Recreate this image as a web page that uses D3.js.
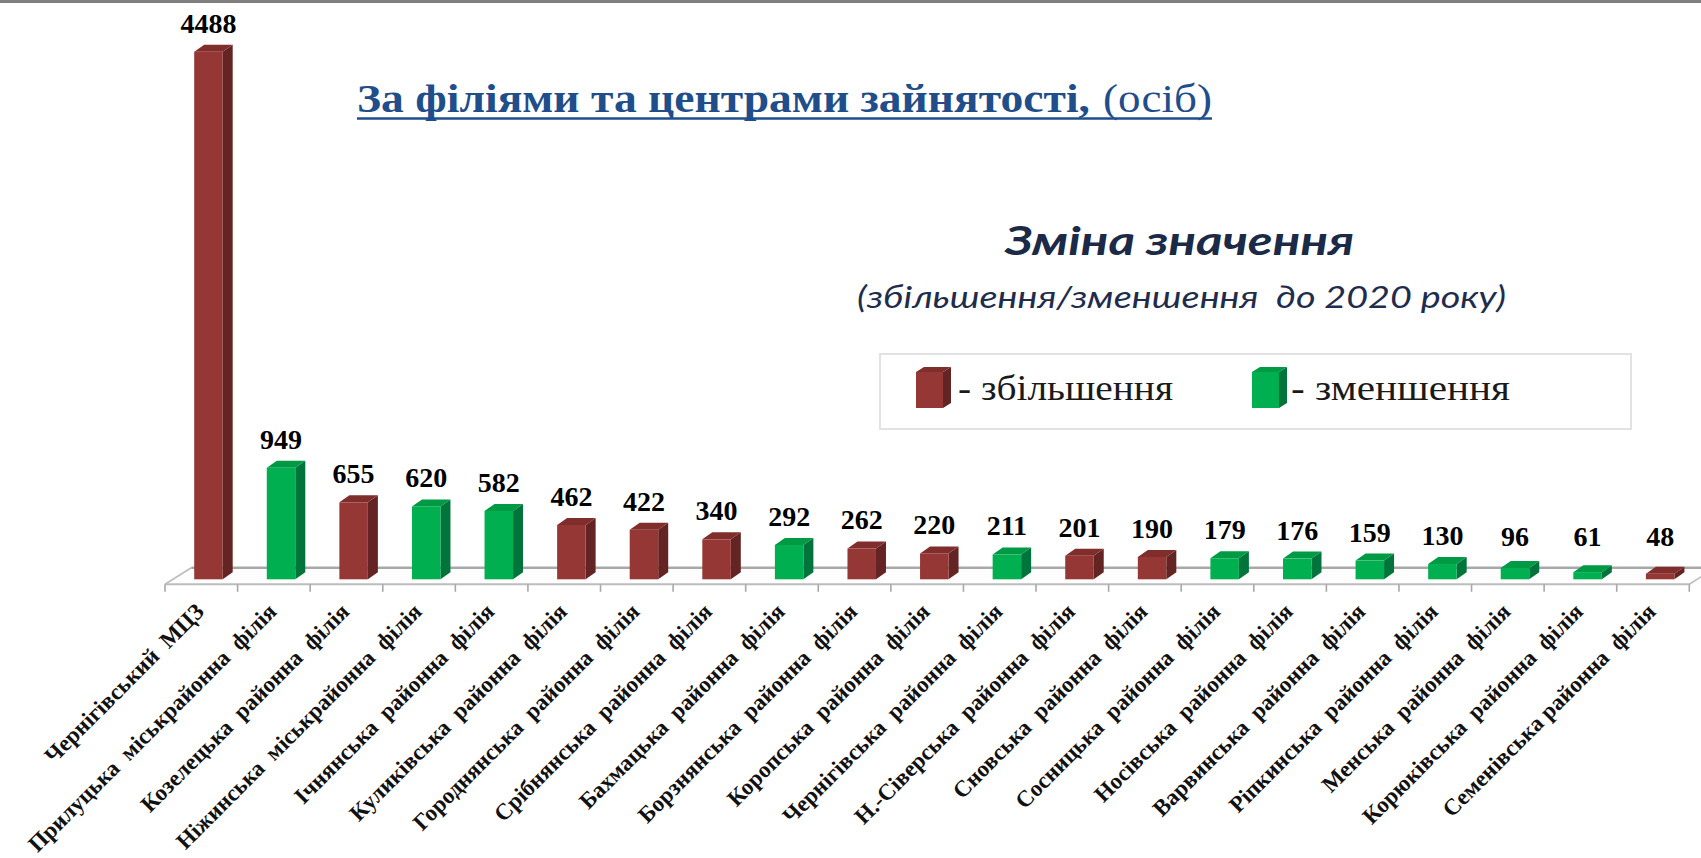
<!DOCTYPE html>
<html><head><meta charset="utf-8">
<script src="https://cdn.jsdelivr.net/npm/d3@7"></script>
<style>html,body{margin:0;padding:0;background:#fff;overflow:hidden}</style>
</head><body><svg id="c" width="1701" height="858"></svg>
<script>
const categories = [
  "Чернігівський  МЦЗ",
  "Прилуцька  міськрайонна  філія",
  "Козелецька  районна  філія",
  "Ніжинська  міськрайонна  філія",
  "Ічнянська  районна  філія",
  "Куликівська  районна  філія",
  "Городнянська  районна  філія",
  "Срібнянська  районна  філія",
  "Бахмацька  районна  філія",
  "Борзнянська  районна  філія",
  "Коропська  районна  філія",
  "Чернігівська  районна  філія",
  "Н.-Сіверська  районна  філія",
  "Сновська  районна  філія",
  "Сосницька  районна  філія",
  "Носівська  районна  філія",
  "Варвинська  районна  філія",
  "Ріпкинська  районна  філія",
  "Менська  районна  філія",
  "Корюківська  районна  філія",
  "Семенівська районна  філія"
];
const values = [4488, 949, 655, 620, 582, 462, 422, 340, 292, 262, 220, 211, 201, 190, 179, 176, 159, 130, 96, 61, 48];
const changeType = ["up","down","up","down","down","up","up","up","down","up","up","down","up","up","down","down","down","down","down","down","up"];
const legendTypes = ["up","down"];
const legendLabels = ["- збільшення", "- зменшення"];
const titleBold = "За філіями та центрами зайнятості,";
const titleUnit = "(осіб)";
const subTitle = "Зміна значення";
const subNote = "(збільшення/зменшення  до 2020 року)";

const W = 1701, H = 858;
const svg = d3.select("#c");
svg.append("rect").attr("width", W).attr("height", H).attr("fill", "#fff");
svg.append("rect").attr("x", 0).attr("y", 0).attr("width", W).attr("height", 3).attr("fill", "#7f7f7f");

const colors = {
  up:   {front: "#953735", side: "#632423", top: "#802e2c"},
  down: {front: "#00B050", side: "#00743A", top: "#009944"}
};

const x = d3.scaleBand().domain(categories).range([165, 1689.3]).paddingInner(0).paddingOuter(0);
const y = d3.scaleLinear().domain([0, 4488]).range([579.3, 51.7]);
const floorFront = 584.3, floorDx = 26.3, floorDy = -16.6;
const barOff = 29.2, barW = 28.5, bdx = 10, bdy = -7;

// floor
const xL = x.range()[0], xR = x.range()[1];
svg.append("polygon")
  .attr("points", [[xL, floorFront], [xR, floorFront], [xR + floorDx, floorFront + floorDy], [xL + floorDx, floorFront + floorDy]].join(" "))
  .attr("fill", "#fdfdfd").attr("stroke", "none");
svg.append("line").attr("x1", xL + floorDx).attr("x2", xR + floorDx).attr("y1", floorFront + floorDy).attr("y2", floorFront + floorDy)
  .attr("stroke", "#a8a8a8").attr("stroke-width", 2.5);
svg.append("line").attr("x1", xL).attr("x2", xR).attr("y1", floorFront).attr("y2", floorFront)
  .attr("stroke", "#bdbdbd").attr("stroke-width", 2);
svg.append("line").attr("x1", xL).attr("x2", xL + floorDx).attr("y1", floorFront).attr("y2", floorFront + floorDy)
  .attr("stroke", "#bdbdbd").attr("stroke-width", 1.6);
svg.append("line").attr("x1", xR).attr("x2", xR + floorDx).attr("y1", floorFront).attr("y2", floorFront + floorDy)
  .attr("stroke", "#bdbdbd").attr("stroke-width", 1.6);

// ticks
const tickXs = categories.map(c => x(c)).concat([xR]);
svg.append("g").selectAll("line").data(tickXs).join("line")
  .attr("x1", d => d).attr("x2", d => d)
  .attr("y1", floorFront).attr("y2", floorFront + 7.5)
  .attr("stroke", "#a8a8a8").attr("stroke-width", 1.6);

// bars
const data = categories.map((c, i) => ({c, v: values[i], t: changeType[i]}));
const bars = svg.append("g").selectAll("g").data(data).join("g");
bars.each(function(d) {
  const g = d3.select(this);
  const xl = x(d.c) + barOff, y0 = y(0), yt = y(d.v);
  const col = colors[d.t];
  g.append("polygon")
    .attr("points", [[xl + barW, yt], [xl + barW + bdx, yt + bdy], [xl + barW + bdx, y0 + bdy], [xl + barW, y0]].join(" "))
    .attr("fill", col.side);
  g.append("polygon")
    .attr("points", [[xl, yt], [xl + bdx, yt + bdy], [xl + barW + bdx, yt + bdy], [xl + barW, yt]].join(" "))
    .attr("fill", col.top);
  g.append("rect").attr("x", xl).attr("y", yt).attr("width", barW).attr("height", y0 - yt)
    .attr("fill", col.front);
});

// value labels
svg.append("g").selectAll("text").data(data).join("text")
  .attr("x", d => x(d.c) + barOff + barW / 2)
  .attr("y", d => Math.min(y(d.v) + bdy - 12, 546))
  .attr("text-anchor", "middle")
  .attr("font-family", "'Liberation Serif', 'Times New Roman', serif")
  .attr("font-weight", "bold").attr("font-size", 28).attr("fill", "#000")
  .text(d => d.v);

// category labels
svg.append("g").selectAll("text").data(categories).join("text")
  .attr("transform", c => `translate(${x(c) + x.bandwidth() / 2 + 4},613) rotate(-45)`)
  .attr("text-anchor", "end")
  .attr("font-family", "'Liberation Serif', 'Times New Roman', serif")
  .attr("font-weight", "bold").attr("font-size", 23).attr("fill", "#111")
  .style("white-space", "pre")
  .text(c => c);

// title
const titleColor = "#1F4E8A";
svg.append("text").attr("x", 357).attr("y", 111.7)
  .attr("font-family", "'Liberation Serif', 'Times New Roman', serif")
  .attr("font-weight", "bold").attr("font-size", 41).attr("fill", titleColor)
  .attr("textLength", 733).attr("lengthAdjust", "spacingAndGlyphs")
  .text(titleBold);
svg.append("text").attr("x", 1103).attr("y", 111.7)
  .attr("font-family", "'Liberation Serif', 'Times New Roman', serif")
  .attr("font-size", 41).attr("fill", titleColor)
  .attr("textLength", 109).attr("lengthAdjust", "spacingAndGlyphs")
  .text(titleUnit);
svg.append("line").attr("x1", 357).attr("x2", 1212).attr("y1", 118.5).attr("y2", 118.5)
  .attr("stroke", titleColor).attr("stroke-width", 2.6);

// subtitle block
svg.append("text").attr("x", 1005).attr("y", 255)
  .attr("font-family", "Lato, 'Open Sans', sans-serif")
  .attr("font-weight", "bold").attr("font-style", "italic").attr("font-size", 40)
  .attr("fill", "#1B2A47")
  .attr("textLength", 349).attr("lengthAdjust", "spacingAndGlyphs")
  .text(subTitle);
svg.append("text").attr("x", 857).attr("y", 308)
  .attr("font-family", "Lato, 'Open Sans', sans-serif")
  .attr("font-style", "italic").attr("font-size", 31)
  .attr("fill", "#1F2D4D").style("white-space", "pre")
  .attr("textLength", 649).attr("lengthAdjust", "spacingAndGlyphs")
  .text(subNote);

// legend
svg.append("rect").attr("x", 880).attr("y", 354).attr("width", 751).attr("height", 75)
  .attr("fill", "#fff").attr("stroke", "#e2e2e2").attr("stroke-width", 2);
const legX = [916, 1252], legTextX = [958, 1291], legTextLen = [215, 219];
legendTypes.forEach((t, i) => {
  const col = colors[t];
  const fx = legX[i], fy = 372, fw = 27, fh = 36, dx = 8, dy = -5;
  svg.append("polygon")
    .attr("points", [[fx + fw, fy], [fx + fw + dx, fy + dy], [fx + fw + dx, fy + fh + dy], [fx + fw, fy + fh]].join(" "))
    .attr("fill", col.side);
  svg.append("polygon")
    .attr("points", [[fx, fy], [fx + dx, fy + dy], [fx + fw + dx, fy + dy], [fx + fw, fy]].join(" "))
    .attr("fill", col.top);
  svg.append("rect").attr("x", fx).attr("y", fy).attr("width", fw).attr("height", fh).attr("fill", col.front);
  svg.append("text").attr("x", legTextX[i]).attr("y", 399.5)
    .attr("font-family", "'Liberation Serif', 'Times New Roman', serif")
    .attr("font-size", 36).attr("fill", "#1a1a1a")
    .attr("textLength", legTextLen[i]).attr("lengthAdjust", "spacingAndGlyphs")
    .text(legendLabels[i]);
});
</script></body></html>
